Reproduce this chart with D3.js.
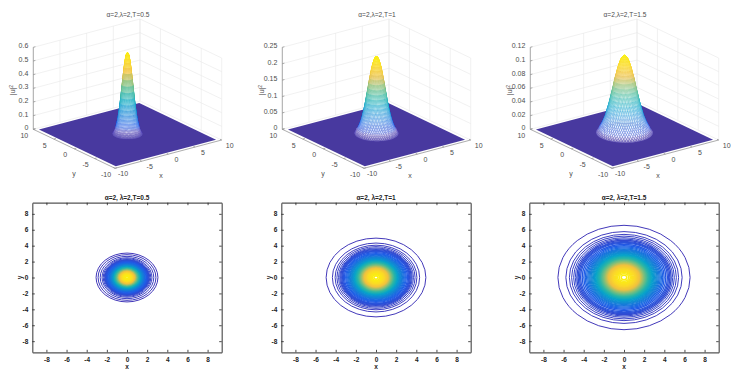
<!DOCTYPE html>
<html>
<head>
<meta charset="utf-8">
<script src="https://cdn.jsdelivr.net/npm/d3@7"></script>
<style>
body { margin: 0; background: #fff; }
text { font-family: "Liberation Sans", Arial, sans-serif; }
</style>
</head>
<body>
<svg id="plot" width="737" height="381"></svg>
<script>
var topTitles = ["α=2,λ=2,T=0.5", "α=2,λ=2,T=1", "α=2,λ=2,T=1.5"];
var bottomTitles = ["α=2, λ=2,T=0.5", "α=2, λ=2,T=1", "α=2, λ=2,T=1.5"];

var axisTicks3d = [-10, -5, 0, 5, 10];
var axisTicks2d = [-8, -6, -4, -2, 0, 2, 4, 6, 8];

var zTicks1 = [0, 0.1, 0.2, 0.3, 0.4, 0.5, 0.6];
var zTicks2 = [0, 0.05, 0.1, 0.15, 0.2, 0.25];
var zTicks3 = [0, 0.02, 0.04, 0.06, 0.08, 0.1, 0.12];

// radial profile of each peak
var radius1 = [0, 0.1, 0.2, 0.3, 0.4, 0.5, 0.6, 0.7, 0.8, 0.9, 1, 1.1, 1.2, 1.3, 1.4, 1.5, 1.6, 1.7, 1.8, 1.9, 2, 2.1, 2.2];
var height1 = [0.6, 0.595, 0.582, 0.559, 0.53, 0.494, 0.453, 0.409, 0.364, 0.319, 0.275, 0.233, 0.195, 0.161, 0.13, 0.104,
    0.081, 0.063, 0.045, 0.032, 0.02, 0.012, 0.006];
var radius2 = [0, 0.125, 0.25, 0.375, 0.5, 0.625, 0.75, 0.875, 1, 1.125, 1.25, 1.375, 1.5, 1.625, 1.75, 1.875, 2, 2.125,
    2.25, 2.375, 2.5, 2.625, 2.75, 2.875, 3, 3.125, 3.25];
var height2 = [0.238, 0.237, 0.233, 0.227, 0.219, 0.21, 0.199, 0.186, 0.173, 0.159, 0.144, 0.13, 0.116, 0.102, 0.089, 0.077,
    0.066, 0.056, 0.047, 0.039, 0.032, 0.026, 0.021, 0.017, 0.013, 0.008, 0.004];
var radius3 = [0, 0.15, 0.3, 0.45, 0.6, 0.75, 0.9, 1.05, 1.2, 1.35, 1.5, 1.65, 1.8, 1.95, 2.1, 2.25, 2.4, 2.55, 2.7, 2.85,
    3, 3.15, 3.3, 3.45, 3.6, 3.75, 3.9, 4.05, 4.2];
var height3 = [0.116, 0.1155, 0.114, 0.112, 0.109, 0.105, 0.101, 0.096, 0.09, 0.085, 0.079, 0.072, 0.066, 0.06, 0.054, 0.048,
    0.043, 0.038, 0.033, 0.028, 0.0245, 0.021, 0.0177, 0.015, 0.0123, 0.0098, 0.007, 0.005, 0.003];

// contour levels (share of the peak) and the ring radius for each
var contourLevels = [0.004, 0.014, 0.024, 0.034, 0.044, 0.054, 0.064, 0.074, 0.084, 0.094, 0.11, 0.13, 0.15, 0.17, 0.19,
    0.21, 0.23, 0.25, 0.27, 0.29, 0.31, 0.33, 0.35, 0.37, 0.39, 0.41, 0.43, 0.45, 0.47, 0.49, 0.51, 0.53, 0.55, 0.57,
    0.59, 0.61, 0.63, 0.65, 0.67, 0.69, 0.71, 0.73, 0.75, 0.77, 0.79, 0.81, 0.83, 0.85, 0.87, 0.89, 0.91, 0.93, 0.95, 0.97, 0.99];
var contour1 = [3.07, 2.87, 2.66, 2.48, 2.36, 2.26, 2.18, 2.11, 2.06, 2.01, 1.95, 1.88, 1.81, 1.75, 1.69,
    1.64, 1.59, 1.55, 1.5, 1.46, 1.42, 1.38, 1.34, 1.31, 1.27, 1.24, 1.21, 1.18, 1.14, 1.11, 1.08, 1.05, 1.02, 0.98,
    0.95, 0.92, 0.89, 0.86, 0.83, 0.8, 0.77, 0.74, 0.71, 0.67, 0.64, 0.6, 0.56, 0.53, 0.49, 0.45, 0.4, 0.35, 0.3, 0.23, 0.13];
var contour2 = [4.95, 4.33, 4.06, 3.88, 3.72, 3.6, 3.5, 3.4, 3.32, 3.24, 3.13, 3.01, 2.91, 2.81, 2.72,
    2.63, 2.56, 2.48, 2.42, 2.35, 2.28, 2.22, 2.16, 2.1, 2.05, 1.99, 1.94, 1.89, 1.83, 1.78, 1.73, 1.68, 1.63, 1.58,
    1.53, 1.48, 1.43, 1.38, 1.34, 1.28, 1.23, 1.19, 1.13, 1.08, 1.03, 0.97, 0.91, 0.85, 0.79, 0.72, 0.65, 0.57, 0.48, 0.36, 0.21];
var contour3 = [6.56, 5.77, 5.42, 5.2, 5.0, 4.84, 4.68, 4.55, 4.43, 4.31, 4.15, 3.99, 3.85, 3.72, 3.6,
    3.49, 3.39, 3.29, 3.2, 3.11, 3.02, 2.94, 2.86, 2.78, 2.71, 2.64, 2.57, 2.5, 2.43, 2.36, 2.29, 2.23, 2.16, 2.09,
    2.03, 1.96, 1.9, 1.83, 1.77, 1.7, 1.63, 1.57, 1.5, 1.43, 1.36, 1.28, 1.2, 1.13, 1.04, 0.95, 0.86, 0.75, 0.63, 0.48, 0.28];

var parulaStops = ["#4438b8", "#1f5ce8", "#1481d6", "#06a4ca", "#2eb7a4", "#87bf77", "#f0c040", "#fbd928", "#fbf00e"];

var panels = [
    {dx: 0, title: topTitles[0], title2: bottomTitles[0], zTicks: zTicks1, radius: radius1, height: height1, contour: contour1},
    {dx: 249, title: topTitles[1], title2: bottomTitles[1], zTicks: zTicks2, radius: radius2, height: height2, contour: contour2},
    {dx: 497, title: topTitles[2], title2: bottomTitles[2], zTicks: zTicks3, radius: radius3, height: height3, contour: contour3}
];

var svg = d3.select("#plot");
var parula = d3.scaleLinear().domain(parulaStops.map(function(c, i) { return i / (parulaStops.length - 1); })).range(parulaStops);
var line = d3.line();

panels.forEach(function(p) {
    drawSurface(svg.append("g").attr("transform", "translate(" + p.dx + ",0)"), p);
    drawContour(svg.append("g").attr("transform", "translate(" + p.dx + ",0)"), p);
});

function drawSurface(g, p) {
    var zMax = p.zTicks[p.zTicks.length - 1];
    // axis box corners on the page: near corner, +x corner, +y corner
    var u = d3.scaleLinear().domain([-10, 10]).range([0, 1]);
    var z = d3.scaleLinear().domain([0, zMax]).range([0, 82]);
    function project(x, y, h) {
        return [115 + 106.7 * u(x) - 81.7 * u(y),
                168.3 - 28.3 * u(x) - 39 * u(y) - z(h)];
    }
    function polar(i, a) {
        return project(p.radius[i] * Math.cos(a), p.radius[i] * Math.sin(a), p.height[i]);
    }

    // back walls
    var grid = g.append("g").attr("fill", "none").attr("stroke", "#e8e8e8").attr("stroke-width", 0.6);
    p.zTicks.forEach(function(t) {
        grid.append("path").attr("d", line([project(-10, 10, t), project(10, 10, t), project(10, -10, t)]));
    });
    axisTicks3d.forEach(function(t) {
        grid.append("path").attr("d", line([project(t, 10, 0), project(t, 10, zMax)]));
        grid.append("path").attr("d", line([project(10, t, 0), project(10, t, zMax)]));
    });

    // axis edges and ticks
    var edge = g.append("g").attr("fill", "none").attr("stroke", "#888").attr("stroke-width", 0.7);
    edge.append("path").attr("d", line([project(-10, 10, zMax), project(-10, 10, 0), project(-10, -10, 0), project(10, -10, 0)]));
    axisTicks3d.forEach(function(t) {
        edge.append("path").attr("d", line([project(t, -10, 0), project(t, -9.6, 0)]));
        edge.append("path").attr("d", line([project(-10, t, 0), project(-9.6, t, 0)]));
    });
    p.zTicks.forEach(function(t) {
        edge.append("path").attr("d", line([project(-10, 10, t), project(-9.6, 10, t)]));
    });

    // floor of the surface
    g.append("path")
        .attr("d", line([project(-9.4, -9.4, 0), project(9.4, -9.4, 0), project(9.4, 9.4, 0), project(-9.4, 9.4, 0)]) + "Z")
        .attr("fill", "#48399f");

    // peak as a diamond mesh over the rings, far side first
    var step = 6 * Math.PI / 180;
    var quads = [];
    d3.range(1, p.radius.length).forEach(function(i) {
        d3.range(0, 60).forEach(function(k) {
            var a = k * step + (i % 2) * step / 2;
            var pts = [polar(i - 1, a), polar(i, a - step / 2)];
            if (i + 1 < p.radius.length) pts.push(polar(i + 1, a));
            pts.push(polar(i, a + step / 2));
            quads.push({
                d: p.radius[i] * (Math.cos(a) * 1.415 + Math.sin(a) * 1.95),
                t: p.height[i] / p.height[0],
                pts: pts
            });
        });
    });
    quads.sort(function(a, b) { return b.d - a.d; });

    // the foot of the peak fades into the floor
    var foot = d3.scaleLinear().domain([0, 0.08]).range([0.85, 0]).clamp(true);
    g.append("g").selectAll("path")
        .data(quads)
        .enter().append("path")
        .attr("d", function(q) { return line(q.pts) + "Z"; })
        .attr("fill", function(q) {
            return q.t < 0.08 ? d3.interpolateRgb("#fff", "#48399f")(foot(q.t))
                : d3.interpolateRgb("#fff", parula(q.t))(0.05 + 0.4 * q.t * q.t);
        })
        .attr("stroke", function(q) { return q.t < 0.08 ? "#5a4cc0" : parula(q.t); })
        .attr("stroke-width", 0.22);

    // labels
    var labels = g.append("g").attr("fill", "#4d4d4d").style("font-size", "7px");
    labels.append("text").attr("x", 128).attr("y", 16.5).attr("text-anchor", "middle").style("font-size", "6.6px").text(p.title);
    p.zTicks.forEach(function(t) {
        var q = project(-10, 10, t);
        labels.append("text").attr("x", q[0] - 5).attr("y", q[1] + 1).attr("text-anchor", "end").text(t);
    });
    axisTicks3d.forEach(function(t) {
        var q = project(t, -10, 0);
        labels.append("text").attr("x", q[0] + 8).attr("y", q[1] + 7.5).attr("text-anchor", "middle").text(t);
        q = project(-10, t, 0);
        labels.append("text").attr("x", q[0] - 9).attr("y", q[1] + 8.5).attr("text-anchor", "middle").text(t);
    });
    labels.append("text").attr("x", 161).attr("y", 177.5).attr("text-anchor", "middle").text("x");
    labels.append("text").attr("x", 74).attr("y", 176).attr("text-anchor", "middle").text("y");
    var zl = labels.append("text").attr("transform", "translate(15,90) rotate(-90)").attr("text-anchor", "middle").text("|u|");
    zl.append("tspan").attr("dy", -2.5).style("font-size", "5px").text("2");
}

function drawContour(g, p) {
    var left = 32.3, right = 221.7, top = 202.7, bottom = 352.3;
    var x = d3.scaleLinear().domain([-9.4, 9.4]).range([left, right]);
    var y = d3.scaleLinear().domain([-9.4, 9.4]).range([bottom, top]);

    var rings = g.append("g").attr("fill", "none");
    contourLevels.forEach(function(level, i) {
        rings.append("ellipse")
            .attr("cx", x(0))
            .attr("cy", y(0))
            .attr("rx", x(p.contour[i]) - x(0))
            .attr("ry", y(0) - y(p.contour[i]))
            .attr("stroke", parula(level))
            .attr("stroke-width", i < 6 ? 1 : i < 25 ? 1.3 : 1.6);
    });

    function tidy(sel) {
        sel.selectAll(".domain").attr("stroke", "#555").attr("stroke-width", 1.2);
        sel.selectAll(".tick line").attr("stroke", "#222").attr("stroke-width", 0.8);
        sel.selectAll(".tick text").attr("fill", "#222").style("font-size", "6.5px").style("font-weight", "bold")
            .style("font-family", '"Liberation Sans", Arial, sans-serif');
    }

    g.append("g").attr("transform", "translate(0," + bottom + ")")
        .call(d3.axisBottom(x).tickValues(axisTicks2d).tickFormat(function(d) { return d; }).tickSizeInner(-2.5).tickSizeOuter(0).tickPadding(5))
        .call(tidy);
    g.append("g").attr("transform", "translate(0," + top + ")")
        .call(d3.axisTop(x).tickValues(axisTicks2d).tickFormat("").tickSizeInner(-2.5).tickSizeOuter(0))
        .call(tidy);
    g.append("g").attr("transform", "translate(" + left + ",0)")
        .call(d3.axisLeft(y).tickValues(axisTicks2d).tickFormat(function(d) { return d; }).tickSizeInner(-2.5).tickSizeOuter(0).tickPadding(4))
        .call(tidy);
    g.append("g").attr("transform", "translate(" + right + ",0)")
        .call(d3.axisRight(y).tickValues(axisTicks2d).tickFormat("").tickSizeInner(-2.5).tickSizeOuter(0))
        .call(tidy);

    var labels = g.append("g").attr("fill", "#222").style("font-size", "6.5px").style("font-weight", "bold");
    labels.append("text").attr("x", x(0)).attr("y", 200).attr("text-anchor", "middle").text(p.title2);
    labels.append("text").attr("x", x(0)).attr("y", 369).attr("text-anchor", "middle").text("x");
    labels.append("text").attr("transform", "translate(21.5," + y(0) + ") rotate(-90)").attr("text-anchor", "middle").text("y");
}
</script>
</body>
</html>
